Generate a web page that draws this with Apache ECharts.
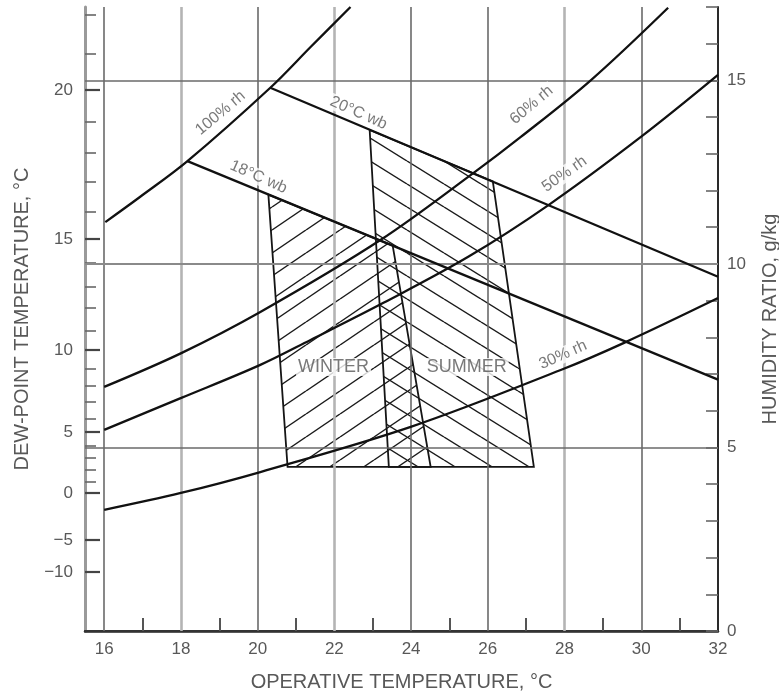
<!DOCTYPE html>
<html><head><meta charset="utf-8">
<script src="https://cdn.jsdelivr.net/npm/echarts@6/dist/echarts.min.js"></script>
<style>html,body{margin:0;padding:0;background:#fff}#c{width:779px;height:696px}</style>
</head><body><div id="c"></div>
<script>
// ---- data (x = operative temperature °C, y = humidity ratio g/kg) ----
const xLabelValues = [16,18,20,22,24,26,28,30,32];
const xMinorTicks = [17,19,21,23,25,27,29,31];
const dewPointLabels = ['20','15','10','5','0','\u22125','\u221210'];
const dewPointMajorW = [14.74,10.68,7.66,5.42,3.76,2.48,1.61];
const dewPointMinorW = [16.78,15.72,13.87,13.02,12.23,11.42,10.03,9.37,8.80,8.17,7.14,6.68,6.24,5.78,5.04,4.71,4.39,4.06];
const humidityLabels = [0,5,10,15];
const verticalGrid = [16,18,20,22,24,26,28,30];
const horizontalGrid = [5,10,15];

const rh100 = [[16.03,11.14],[16.94,11.83],[18.17,12.8],[20.33,14.8],[21.38,15.91],[22.42,17.0]];
const rh60 = [[16,6.65],[18.01,7.57],[20.07,8.69],[23.2,10.65],[25.63,12.48],[26.86,13.46],[28.69,15.01],[30.70,16.98]];
const rh50 = [[16,5.48],[18.01,6.35],[20.07,7.25],[21.38,7.93],[23.28,8.94],[25.5,10.2],[27.59,11.61],[29.99,13.46],[32,15.15]];
const rh30 = [[16,3.30],[18,3.76],[20.07,4.33],[23.99,5.56],[27.9,7.11],[29.55,7.85],[32,9.07]];
const wb18 = [[18.17,12.8],[32,6.85]];
const wb20 = [[20.33,14.8],[32,9.65]];
const winterZone = [[20.28,11.89],[23.52,10.5],[24.51,4.47],[20.78,4.47]];
const summerZone = [[22.92,13.65],[26.13,12.25],[27.2,4.47],[23.42,4.47]];

const annotations = [
  {text:'100% rh', at:[19.03,14.11], rotate:40},
  {text:'18\u00b0C wb', at:[20.02,12.37], rotate:-24},
  {text:'20\u00b0C wb', at:[22.63,14.11], rotate:-24},
  {text:'60% rh', at:[27.14,14.33], rotate:40},
  {text:'50% rh', at:[28.0,12.45], rotate:35},
  {text:'30% rh', at:[27.96,7.52], rotate:24},
  {text:'WINTER', at:[21.98,7.19], rotate:0, big:true},
  {text:'SUMMER', at:[25.45,7.19], rotate:0, big:true}
];

// ---- styles ----
const FONT = 'Liberation Sans';
const TXT = '#585858';
const lightGrid = [18,22,28];

function hatch(dir, w, h, color, lw){
  const c = document.createElement('canvas'); c.width = w; c.height = h;
  const g = c.getContext('2d'); g.strokeStyle = color; g.lineWidth = lw;
  for (let k=-1;k<=1;k++){
    g.beginPath();
    if (dir>0){ g.moveTo(0,h*(1+k)); g.lineTo(w,h*k); }
    else { g.moveTo(0,h*k); g.lineTo(w,h*(1+k)); }
    g.stroke();
  }
  return {image:c, repeat:'repeat'};
}
const winterFill = hatch(1, 34, 23, '#1a1a1a', 1.4);
const summerFill = hatch(-1, 37, 23, '#1a1a1a', 1.4);

function zoneSeries(name, zone, fill){
  return {
    type:'custom', name, xAxisIndex:0, yAxisIndex:0, silent:true, z:3, clip:true,
    data:[zone[0]],
    renderItem:(params, api)=>({
      type:'polygon',
      shape:{points: zone.map(p=>api.coord(p))},
      style:{fill: fill, stroke:'#151515', lineWidth:1.8}
    })
  };
}
function curve(name, pts, smooth){
  return {type:'line', name, data:pts, smooth:smooth, showSymbol:false, silent:true, z:5,
    lineStyle:{color:'#111', width:2.3}, xAxisIndex:0, yAxisIndex:0};
}

const chart = echarts.init(document.getElementById('c'), null, {renderer:'canvas'});
chart.setOption({
  animation:false,
  grid:{left:85, right:61, top:7, bottom:65, containLabel:false, outerBoundsMode:'none'},
  xAxis:[
    {type:'value', position:'bottom', min:15.5, max:32,
     axisLine:{lineStyle:{color:'#222', width:2.5}},
     axisTick:{inside:true, length:13, customValues:xMinorTicks, lineStyle:{color:'#555', width:2}},
     axisLabel:{customValues:xLabelValues, margin:10, color:TXT, fontFamily:FONT, fontSize:17},
     splitLine:{show:false},
     name:'OPERATIVE TEMPERATURE, \u00b0C', nameLocation:'middle', nameGap:41,
     nameTextStyle:{color:TXT, fontFamily:FONT, fontSize:20}},
    {type:'value', position:'top', min:15.5, max:32,
     axisLine:{lineStyle:{color:'#333', width:2}}, axisTick:{show:false}, axisLabel:{show:false}, splitLine:{show:false}}
  ],
  yAxis:[
    {type:'value', position:'left', min:0, max:17,
     axisLine:{show:true, lineStyle:{color:'#9a9a9a', width:3}},
     axisTick:{show:true, inside:true, length:15, customValues:dewPointMajorW, lineStyle:{color:'#444', width:2.2}},
     axisLabel:{customValues:dewPointMajorW, margin:12, color:TXT, fontFamily:FONT, fontSize:17,
       formatter:(v)=>{let bi=0,bd=1e9; dewPointMajorW.forEach((w,i)=>{const d=Math.abs(w-v); if(d<bd){bd=d;bi=i;}}); return dewPointLabels[bi];}},
     splitLine:{show:false},
     name:'DEW-POINT TEMPERATURE, \u00b0C', nameLocation:'middle', nameGap:53, nameRotate:90,
     nameTextStyle:{color:TXT, fontFamily:FONT, fontSize:20}},
    {type:'value', position:'left', min:0, max:17,
     axisLine:{show:false},
     axisTick:{show:true, inside:true, length:11, customValues:dewPointMinorW, lineStyle:{color:'#666', width:1.6}},
     axisLabel:{show:false}, splitLine:{show:false}},
    {type:'value', position:'right', min:0, max:17, interval:1,
     axisLine:{show:true, lineStyle:{color:'#2a2a2a', width:2}},
     axisTick:{show:true, inside:true, length:12, lineStyle:{color:'#666', width:1.6}},
     axisLabel:{margin:9, color:TXT, fontFamily:FONT, fontSize:17,
       formatter:(v)=> humidityLabels.indexOf(v)>=0 ? String(v) : ''},
     splitLine:{show:false},
     name:'HUMIDITY RATIO, g/kg', nameLocation:'middle', nameGap:42, nameRotate:90,
     nameTextStyle:{color:TXT, fontFamily:FONT, fontSize:20}}
  ],
  series:[
    {type:'line', name:'grid', data:[], xAxisIndex:0, yAxisIndex:0, z:1, silent:true,
     markLine:{silent:true, symbol:'none', label:{show:false}, animation:false,
       data: verticalGrid.map(v=>({xAxis:v, lineStyle: lightGrid.indexOf(v)>=0 ? {color:'#b4b4b4', width:2.6, type:'solid'} : {color:'#6a6a6a', width:1.6, type:'solid'}}))
         .concat(horizontalGrid.map(v=>({yAxis:v, lineStyle: v===10 ? {color:'#8a8a8a', width:2.2, type:'solid'} : {color:'#6a6a6a', width:1.6, type:'solid'}})))
     }},
    zoneSeries('Winter', winterZone, winterFill),
    zoneSeries('Summer', summerZone, summerFill),
    curve('100% rh', rh100, 0.35),
    curve('60% rh', rh60, 0.35),
    curve('50% rh', rh50, 0.35),
    curve('30% rh', rh30, 0.35),
    curve('18 wb', wb18, false),
    curve('20 wb', wb20, false),
    {type:'scatter', name:'labels', xAxisIndex:0, yAxisIndex:0, z:8, silent:true,
     symbolSize:1, itemStyle:{color:'rgba(0,0,0,0)'},
     data: annotations.map(a=>({value:a.at, name:a.text,
       label:{show:true, position:'inside', formatter:a.text, rotate:a.rotate,
         color:TXT, fontFamily:FONT, fontSize: a.big?18:16, backgroundColor:'#fff', padding:[0,2]}}))}
  ]
});
</script></body></html>
